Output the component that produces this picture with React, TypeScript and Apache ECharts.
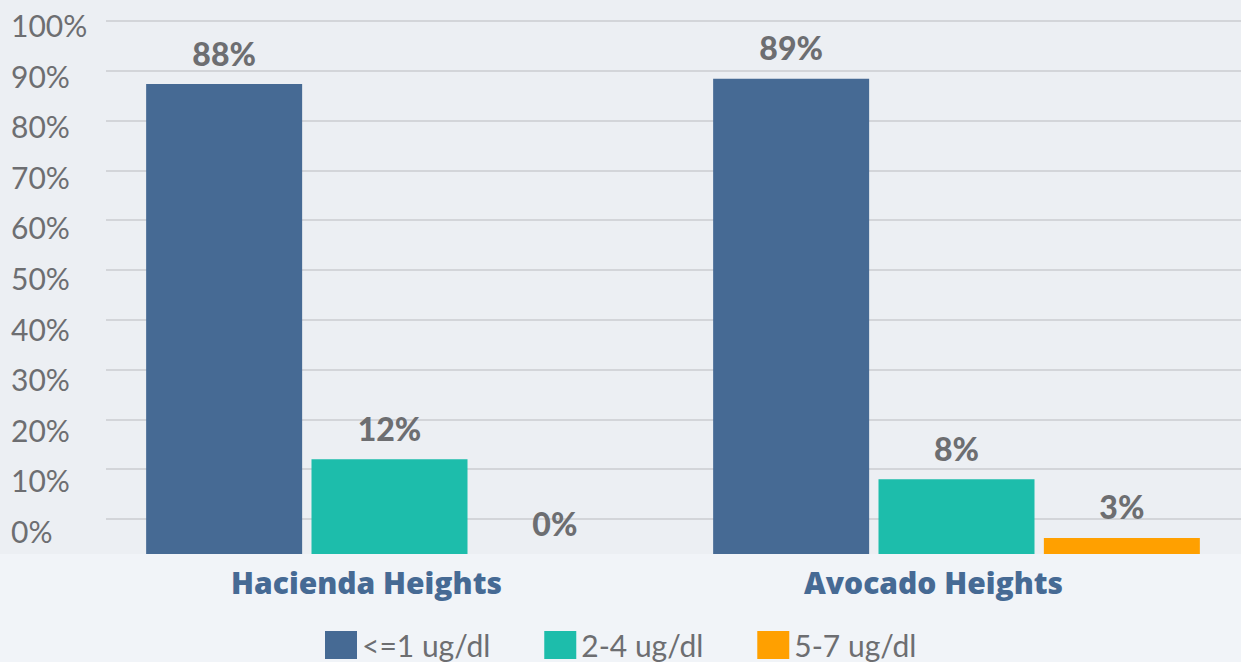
import React, { useEffect, useRef } from 'react';
import * as echarts from 'echarts';

const categories = ['Hacienda Heights', 'Avocado Heights'];
const seriesNames = ['<=1 ug/dl', '2-4 ug/dl', '5-7 ug/dl'];
const lowLevel = [88, 89];
const midLevel = [12, 8];
const highLevel = [0, 3];
const axisFloor = -7;

const FONT = 'Lato';
const BOLD_FONT = 'Open Sans';
const GRAY = '#6d6e71';
const BLUE = '#466a94';
const TEAL = '#1dbdab';
const ORANGE = '#ffa000';

const labelStyle = {
  show: true,
  position: 'top',
  distance: 15,
  formatter: '{c}%',
  fontFamily: FONT,
  fontSize: 32,
  fontWeight: 900,
  color: GRAY,
};

export default function App() {
  const ref = useRef<HTMLDivElement>(null);

  useEffect(() => {
    if (!ref.current) return;
    const chart = echarts.init(ref.current, undefined, { renderer: 'svg' });
    chart.setOption({
      animation: false,
      backgroundColor: '#f1f4f8',
      graphic: [
        {
          type: 'rect',
          z: -100,
          silent: true,
          shape: { x: 0, y: 0, width: 1241, height: 554 },
          style: { fill: '#eceff3' },
        },
      ],
      grid: [
        { left: 106, right: 0, top: 21, height: 498 },
        { left: 11, top: 25, height: 506, width: 95 },
        { left: 106, right: 1, top: 20, height: 534 },
      ],
      xAxis: [
        { gridIndex: 0, type: 'value', show: false },
        { gridIndex: 1, type: 'value', show: false },
        {
          gridIndex: 2,
          type: 'category',
          data: categories,
          axisLine: { show: false },
          axisTick: { show: false },
          axisLabel: {
            margin: 13,
            fontFamily: BOLD_FONT,
            fontSize: 30,
            fontWeight: 800,
            color: BLUE,
            padding: [0, 46, 0, 0],
          },
        },
      ],
      yAxis: [
        {
          gridIndex: 0,
          type: 'value',
          min: 0,
          max: 100,
          interval: 10,
          axisLine: { show: false },
          axisTick: { show: false },
          axisLabel: { show: false },
          splitLine: { show: true, lineStyle: { color: '#d3d5d9', width: 2 } },
        },
        {
          gridIndex: 1,
          type: 'value',
          min: 0,
          max: 100,
          interval: 10,
          axisLine: { show: false },
          axisTick: { show: false },
          splitLine: { show: false },
          axisLabel: {
            inside: true,
            margin: 0,
            formatter: '{value}%',
            fontFamily: FONT,
            fontSize: 30,
            color: GRAY,
          },
        },
        { gridIndex: 2, type: 'value', min: 0, max: 100, show: false, splitLine: { show: false } },
        { gridIndex: 2, type: 'value', min: axisFloor, max: 100, show: false, splitLine: { show: false } },
      ],
      legend: {
        data: seriesNames,
        left: 325,
        top: 630,
        padding: 0,
        itemWidth: 32,
        itemHeight: 28,
        itemGap: 54,
        icon: 'rect',
        textStyle: { fontFamily: FONT, fontSize: 30, color: GRAY },
      },
      series: [
        {
          name: seriesNames[0],
          type: 'bar',
          xAxisIndex: 2,
          yAxisIndex: 2,
          data: lowLevel,
          barWidth: 156,
          barGap: '6%',
          itemStyle: { color: BLUE },
          label: labelStyle,
        },
        {
          name: 'base',
          type: 'bar',
          xAxisIndex: 2,
          yAxisIndex: 3,
          stack: 'mid',
          data: categories.map(() => axisFloor),
          barWidth: 156,
          barGap: '6%',
          itemStyle: { color: TEAL },
          label: { show: false },
        },
        {
          name: seriesNames[1],
          type: 'bar',
          xAxisIndex: 2,
          yAxisIndex: 3,
          stack: 'mid',
          data: midLevel,
          barWidth: 156,
          barGap: '6%',
          itemStyle: { color: TEAL },
          label: labelStyle,
        },
        {
          name: seriesNames[2],
          type: 'bar',
          xAxisIndex: 2,
          yAxisIndex: 2,
          data: highLevel,
          barWidth: 156,
          barGap: '6%',
          itemStyle: { color: ORANGE },
          label: labelStyle,
        },
      ],
    });
    return () => chart.dispose();
  }, []);

  return (
    <div
      ref={ref}
      style={{ position: 'absolute', left: 0, top: 0, width: 1241, height: 662 }}
    />
  );
}
